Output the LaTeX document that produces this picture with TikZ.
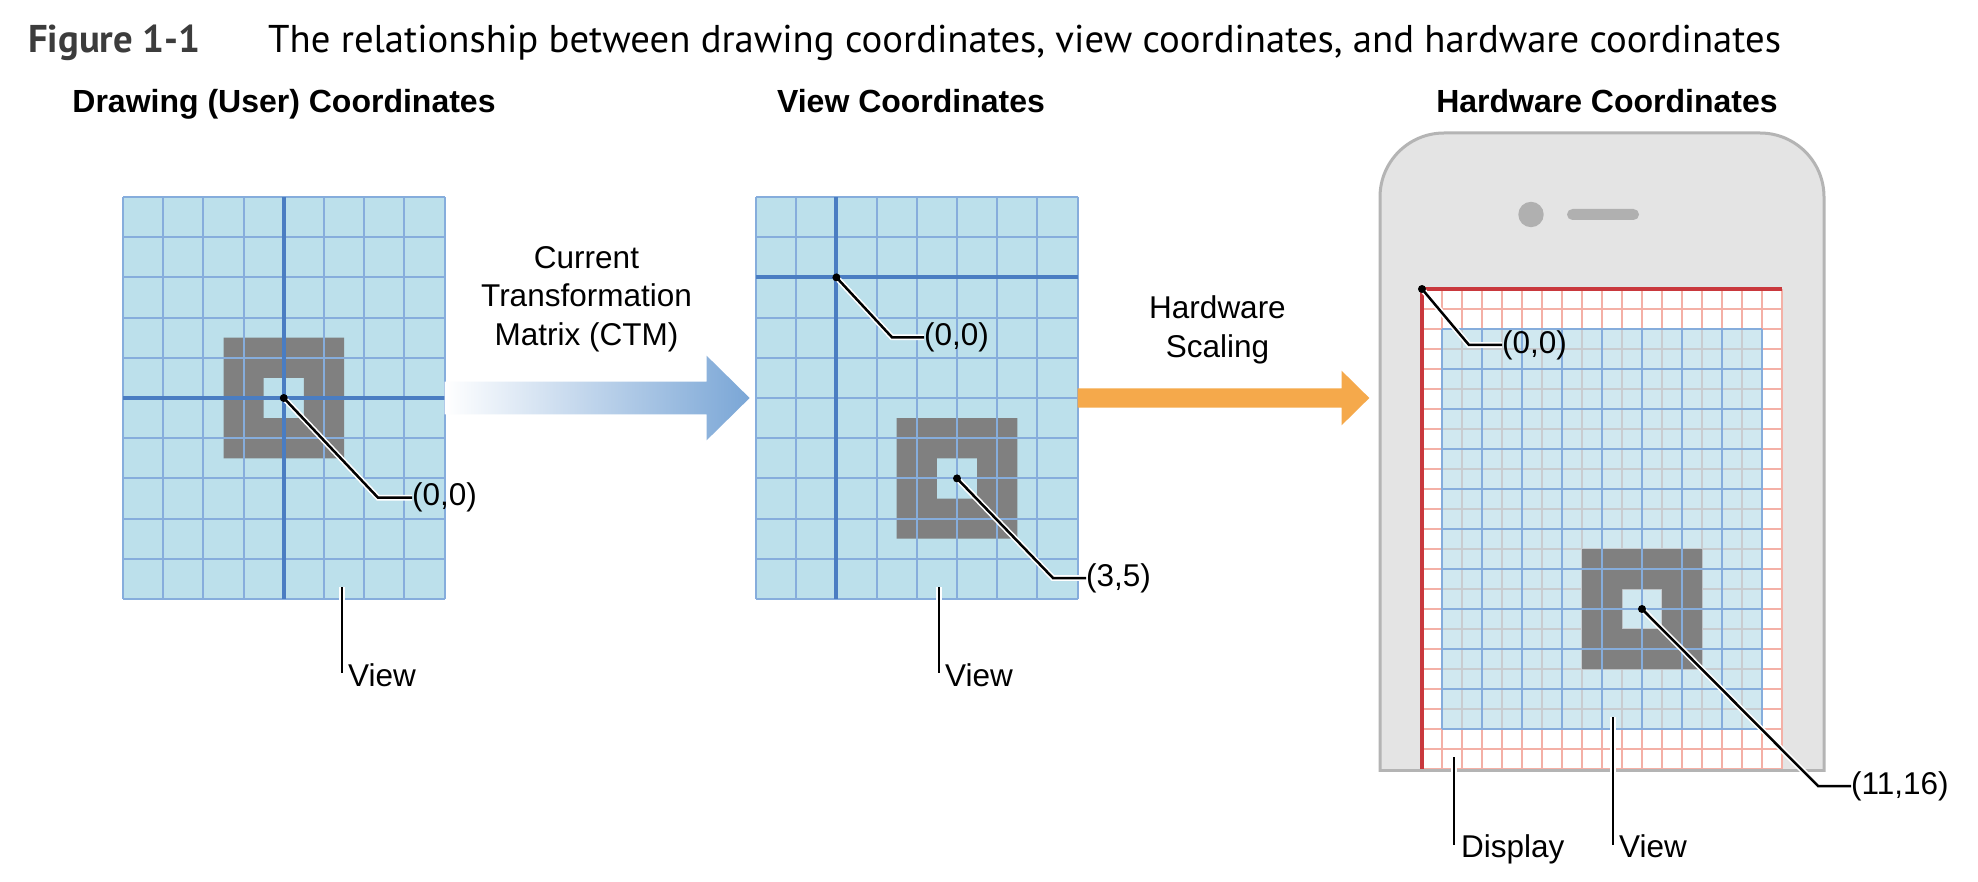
\documentclass[tikz,border=0pt]{standalone}
\usepackage{fontspec}
\setmainfont{Liberation Sans}
\newfontfamily\captionfont{PT Sans}
\usepackage{tikz}
\usetikzlibrary{positioning, calc}

\definecolor{cellblue}{HTML}{BCE0EB}
\definecolor{gridblue}{HTML}{86ADDC}
\definecolor{axisblue}{HTML}{4A7DC2}
\definecolor{squaregray}{HTML}{808080}
\definecolor{viewblue}{HTML}{D0E8F0}
\definecolor{finegray}{HTML}{C8CCD0}
\definecolor{finered}{HTML}{F4B0A6}
\definecolor{edgered}{HTML}{C9383D}
\definecolor{phonegray}{HTML}{E4E4E4}
\definecolor{phoneedge}{HTML}{B4B4B4}
\definecolor{phonedark}{HTML}{B0B0B0}
\definecolor{ctmblue}{HTML}{7AA6D6}
\definecolor{hworange}{HTML}{F5A94B}
\definecolor{figgray}{HTML}{3C3C3C}

\begin{document}
\begin{tikzpicture}[x=1pt, y=-1pt,
        cellgrid/.style={gridblue, line width=2pt},
        axisline/.style={axisblue, line width=4pt},
        leader/.style={line width=2.5pt, preaction={draw=white, line width=5.7pt}},
        lbl/.style={font=\fontsize{31.5}{38.5}\selectfont, inner sep=0pt},
        heading/.style={font=\fontsize{32}{38}\selectfont\bfseries, inner sep=0pt},
        figtitle/.style={font=\captionfont\fontsize{38.7}{44}\selectfont, inner sep=0pt}]
        \useasboundingbox[fill=white] (0,0) rectangle (1978,882);

        \node[figtitle, anchor=base west, text=figgray, font=\captionfont\fontsize{38.7}{44}\selectfont\bfseries] (fig) at (28,53) {Figure 1-1};
        \node[figtitle, anchor=base west] (caption) at (268,53) {The relationship between drawing coordinates, view coordinates, and hardware coordinates};

        \node[heading, anchor=base] (h1) at (284,113) {Drawing (User) Coordinates};
        \node[heading, anchor=base] (h2) at (911,113) {View Coordinates};
        \node[heading, anchor=base] (h3) at (1607,113) {Hardware Coordinates};

        % drawing (user) coordinates
        \begin{scope}[shift={(123,197)}, x=40.2pt, y=-40.2pt]
            \fill[cellblue] (0,0) rectangle (8,10);
            \fill[squaregray, even odd rule] (2.5,3.5) rectangle (5.5,6.5) (3.5,4.5) rectangle (4.5,5.5);
            \foreach \i in {0,...,8} \draw[cellgrid] (\i,0) -- (\i,10);
            \foreach \j in {0,...,10} \draw[cellgrid] (0,\j) -- (8,\j);
            \draw[axisline] (4,0) -- (4,10) (0,5) -- (8,5);
            \coordinate (o1) at (4,5);
            \coordinate (g1east) at (8,5);
        \end{scope}

        % view coordinates
        \begin{scope}[shift={(756,197)}, x=40.2pt, y=-40.2pt]
            \fill[cellblue] (0,0) rectangle (8,10);
            \fill[squaregray, even odd rule] (3.5,5.5) rectangle (6.5,8.5) (4.5,6.5) rectangle (5.5,7.5);
            \foreach \i in {0,...,8} \draw[cellgrid] (\i,0) -- (\i,10);
            \foreach \j in {0,...,10} \draw[cellgrid] (0,\j) -- (8,\j);
            \draw[axisline] (2,0) -- (2,10) (0,2) -- (8,2);
            \coordinate (o2) at (2,2);
            \coordinate (p2) at (5,7);
            \coordinate (g2east) at (8,5);
        \end{scope}

        % phone
        \begin{scope}
            \clip (1370,120) rectangle (1840,771.5);
            \draw[phoneedge, fill=phonegray, line width=3pt, rounded corners=64pt] (1380,133) rectangle (1824,900);
        \end{scope}
        \fill[phonedark] (1531,214.5) circle[radius=12.7pt];
        \fill[phonedark, rounded corners=5.5pt] (1567,209) rectangle (1639,220);

        % hardware display and view
        \begin{scope}[shift={(1422,289)}, x=20pt, y=-20pt]
            \fill[white] (0,0) rectangle (18,24);
            \foreach \i in {0,...,18} \draw[finered, line width=2pt] (\i,0) -- (\i,24);
            \foreach \j in {0,...,24} \draw[finered, line width=2pt] (0,\j) -- (18,\j);
            \fill[viewblue] (1,2) rectangle (17,22);
            \foreach \i in {2,4,...,16} \draw[finegray, line width=2pt] (\i,2) -- (\i,22);
            \foreach \j in {3,5,...,21} \draw[finegray, line width=2pt] (1,\j) -- (17,\j);
            \fill[squaregray, even odd rule] (8,13) rectangle (14,19) (10,15) rectangle (12,17);
            \foreach \i in {1,3,...,17} \draw[cellgrid] (\i,2) -- (\i,22);
            \foreach \j in {2,4,...,22} \draw[cellgrid] (1,\j) -- (17,\j);
            \draw[edgered, line width=3.5pt] (0,24) -- (0,0) -- (18,0);
            \coordinate (o3) at (0,0);
            \coordinate (p3) at (11,16);
        \end{scope}
        \draw[phoneedge, line width=3pt] (1380,770) -- (1824,770);

        % arrows
        \shade[left color=white, right color=ctmblue]
            (g1east) ++(0,-16.3) -- ++(262,0) -- ++(0,-26) -- ++(43,42.3) -- ++(-43,42.3)
            -- ++(0,-26) -- ++(-262,0) -- cycle;
        \fill[hworange]
            (g2east) ++(0,-9.7) -- ++(264,0) -- ++(0,-17.6) -- ++(27.7,27.3) -- ++(-27.7,27.3)
            -- ++(0,-17.6) -- ++(-264,0) -- cycle;
        \node[lbl, align=center] (ctm) at (586.5,299) {Current\\Transformation\\Matrix (CTM)};
        \node[lbl, align=center] (hws) at (1217.5,330) {Hardware\\Scaling};

        % point labels
        \node[lbl, anchor=west] (lo1) at (412,497.7) {(0,0)};
        \node[lbl, anchor=west] (lo2) at (924,337.3) {(0,0)};
        \node[lbl, anchor=west] (lp2) at (1086,578) {(3,5)};
        \node[lbl, anchor=west] (lo3) at (1502,345) {(0,0)};
        \node[lbl, anchor=west] (lp3) at (1851,786) {(11,16)};

        \draw[leader] (o1) -- ([xshift=-34pt]lo1.west) -- (lo1.west);
        \draw[leader] (o2) -- ([xshift=-32pt]lo2.west) -- (lo2.west);
        \draw[leader] (p2) -- ([xshift=-33pt]lp2.west) -- (lp2.west);
        \draw[leader] (o3) -- ([xshift=-33pt]lo3.west) -- (lo3.west);
        \draw[leader] (p3) -- ([xshift=-33pt]lp3.west) -- (lp3.west);
        \foreach \p in {o1,o2,p2,o3,p3} \fill (\p) circle[radius=4pt];

        % view and display tags
        \coordinate (v1top) at (342,587);
        \coordinate (v1bot) at (342,673);
        \coordinate (v2top) at (939,587);
        \coordinate (v2bot) at (939,673);
        \coordinate (dtop) at (1454,757);
        \coordinate (dbot) at (1454,845);
        \coordinate (v3top) at (1613,717);
        \coordinate (v3bot) at (1613,845);
        \node[lbl, anchor=base west] (view1) at ([xshift=6pt, yshift=-13pt]v1bot) {View};
        \node[lbl, anchor=base west] (view2) at ([xshift=6pt, yshift=-13pt]v2bot) {View};
        \node[lbl, anchor=base west] (disp) at ([xshift=7pt, yshift=-12pt]dbot) {Display};
        \node[lbl, anchor=base west] (view3) at ([xshift=6pt, yshift=-12pt]v3bot) {View};
        \draw[leader] (v1top) -- (v1bot);
        \draw[leader] (v2top) -- (v2bot);
        \draw[leader] (dtop) -- (dbot);
        \draw[leader] (v3top) -- (v3bot);
\end{tikzpicture}
\end{document}
